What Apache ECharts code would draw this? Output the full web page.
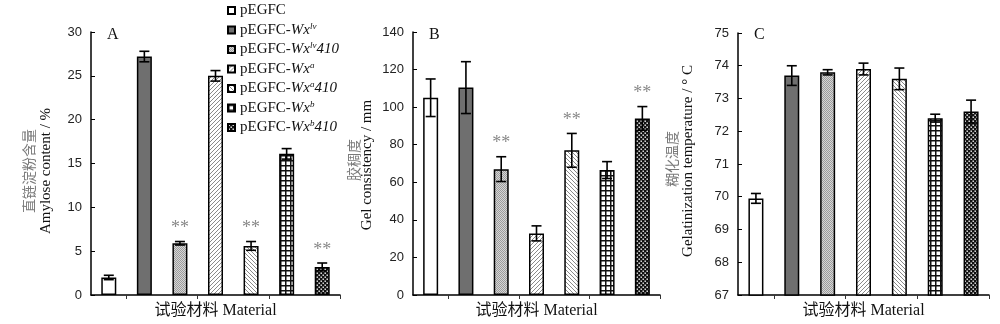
<!DOCTYPE html>
<html>
<head>
<meta charset="utf-8">
<script src="https://cdn.jsdelivr.net/npm/echarts@6/dist/echarts.min.js"></script>
<style>html,body{margin:0;padding:0;background:#fff}#c{width:1000px;height:324px}</style>
</head>
<body>
<div id="c"></div>
<script>
// ---- data ----
const categories = ['pEGFC', 'pEGFC-Wxlv', 'pEGFC-Wxlv410', 'pEGFC-Wxa', 'pEGFC-Wxa410', 'pEGFC-Wxb', 'pEGFC-Wxb410'];
const amylose    = [2.0, 27.2, 5.9, 25.0, 5.6, 16.1, 3.2];
const amyloseErr = [0.25, 0.6, 0.2, 0.6, 0.5, 0.6, 0.45];
const amyloseSig = ['', '', '**', '', '**', '', '**'];
const gelCons    = [105, 110.4, 67.0, 32.8, 77.0, 66.5, 94.0];
const gelConsErr = [10, 13.8, 6.6, 4.0, 9.0, 4.5, 6.3];
const gelConsSig = ['', '', '**', '', '**', '', '**'];
const gelTemp    = [69.95, 73.7, 73.8, 73.9, 73.6, 72.4, 72.6];
const gelTempErr = [0.15, 0.3, 0.08, 0.18, 0.33, 0.12, 0.35];
const gelTempSig = ['', '', '', '', '', '', ''];
const panelLetters = ['A', 'B', 'C'];
const yTitlesCN = ['直链淀粉含量', '胶稠度', '糊化温度'];
const yTitlesEN = ['Amylose content / %', 'Gel consistency / mm', 'Gelatinization temperature / ° C'];
const xTitle = '试验材料 Material';
const yRanges = [[0, 30, 5], [0, 140, 20], [67, 75, 1]];

// ---- patterns ----
function mk(w, h, draw) {
  const c = document.createElement('canvas'); c.width = w; c.height = h;
  const g = c.getContext('2d'); draw(g, w, h);
  return { image: c, repeat: 'repeat' };
}
const fills = [
  '#ffffff',
  '#6f6f6f',
  mk(2, 2, (g) => { g.fillStyle = '#d6d6d6'; g.fillRect(0, 0, 2, 2); g.fillStyle = '#9c9c9c'; g.fillRect(0, 0, 1, 1); g.fillRect(1, 1, 1, 1); }),
  mk(4, 4, (g) => { g.fillStyle = '#fff'; g.fillRect(0, 0, 4, 4); g.strokeStyle = '#8a8a8a'; g.lineWidth = 1; g.beginPath(); g.moveTo(-1, 5); g.lineTo(5, -1); g.moveTo(-1, 1); g.lineTo(1, -1); g.moveTo(3, 5); g.lineTo(5, 3); g.stroke(); }),
  mk(4, 4, (g) => { g.fillStyle = '#fff'; g.fillRect(0, 0, 4, 4); g.strokeStyle = '#8a8a8a'; g.lineWidth = 1; g.beginPath(); g.moveTo(-1, -1); g.lineTo(5, 5); g.moveTo(3, -1); g.lineTo(5, 1); g.moveTo(-1, 3); g.lineTo(1, 5); g.stroke(); }),
  mk(5, 5, (g) => { g.fillStyle = '#fff'; g.fillRect(0, 0, 5, 5); g.fillStyle = '#111'; g.fillRect(0, 0, 5, 1.5); g.fillRect(0, 0, 1.5, 5); }),
  mk(4, 4, (g) => { g.fillStyle = '#111'; g.fillRect(0, 0, 4, 4); g.fillStyle = '#fff'; g.fillRect(0.5, 0.5, 1.4, 1.4); g.fillRect(2.5, 2.5, 1.4, 1.4); })
];

const panels = [
  { vals: amylose, err: amyloseErr, sig: amyloseSig },
  { vals: gelCons, err: gelConsErr, sig: gelConsSig },
  { vals: gelTemp, err: gelTempErr, sig: gelTempSig }
];
const grids = [
  { left: 91, top: 32, width: 249, height: 266 },
  { left: 413, top: 32, width: 247, height: 266 },
  { left: 738, top: 33, width: 251, height: 264 }
];
// y-title placement (centre of each rotated line)
const titlePos = [
  { cn: [29, 171], en: [46, 171] },
  { cn: [354, 160], en: [367, 165] },
  { cn: [672, 159], en: [688, 161] }
];

const serif = 'Liberation Serif';
const cjk = 'Noto Sans CJK SC';

const xAxes = [], yAxes = [], series = [], graphics = [];
panels.forEach((p, k) => {
  xAxes.push({
    type: 'category', gridIndex: k, data: categories, boundaryGap: true,
    axisLine: { lineStyle: { color: '#000', width: 1.5 } },
    axisTick: { show: true, length: 4, inside: false, interval: (i) => i % 2 === 1, lineStyle: { color: '#333', width: 1 } },
    axisLabel: { show: false },
    splitLine: { show: false },
    name: xTitle, nameLocation: 'middle', nameGap: 8,
    nameTextStyle: { fontFamily: serif + ', ' + cjk, fontSize: 16, color: '#111' }
  });
  yAxes.push({
    type: 'value', gridIndex: k, min: yRanges[k][0], max: yRanges[k][1], interval: yRanges[k][2],
    axisLine: { show: true, lineStyle: { color: '#000', width: 1.5 } },
    axisTick: { show: true, inside: true, length: 4, lineStyle: { color: '#000', width: 1 } },
    axisLabel: { fontFamily: 'Liberation Sans', fontSize: 13, color: '#222', margin: 9 },
    splitLine: { show: false }
  });
  categories.forEach((name, i) => {
    series.push({
      type: 'bar', name: name, xAxisIndex: k, yAxisIndex: k,
      data: p.vals.map((v, j) => (j === i ? v : '-')),
      barWidth: 15, barGap: '-100%',
      itemStyle: { color: fills[i], borderColor: '#000', borderWidth: 1.5 },
      emphasis: { disabled: true }, animation: false
    });
  });
  series.push({
    type: 'custom', xAxisIndex: k, yAxisIndex: k, z: 10, animation: false,
    data: p.vals.map((v, j) => [j, v, p.err[j]]),
    renderItem: (params, api) => {
      const x = api.value(0), v = api.value(1), e = api.value(2);
      const t = api.coord([x, v + e]), b = api.coord([x, v - e]);
      const hw = 5;
      const st = { stroke: '#000', lineWidth: 1.6 };
      const ch = [
        { type: 'line', shape: { x1: t[0], y1: t[1], x2: b[0], y2: b[1] }, style: st },
        { type: 'line', shape: { x1: t[0] - hw, y1: t[1], x2: t[0] + hw, y2: t[1] }, style: st },
        { type: 'line', shape: { x1: b[0] - hw, y1: b[1], x2: b[0] + hw, y2: b[1] }, style: st }
      ];
      const s = p.sig[params.dataIndex];
      if (s) {
        ch.push({ type: 'text', x: t[0], y: t[1] - 4, style: { text: s, fill: '#888', font: '18px Liberation Serif', align: 'center', verticalAlign: 'bottom' } });
      }
      return { type: 'group', children: ch };
    }
  });
  graphics.push({
    type: 'text', left: grids[k].left + 16, top: 27,
    style: { text: panelLetters[k], font: '16px Liberation Serif', fill: '#111' }
  });
  graphics.push({
    type: 'text', x: titlePos[k].cn[0], y: titlePos[k].cn[1], rotation: Math.PI / 2,
    style: { text: yTitlesCN[k], font: '14px "Noto Sans CJK SC"', fill: '#7a7a7a', align: 'center', verticalAlign: 'middle' }
  });
  graphics.push({
    type: 'text', x: titlePos[k].en[0], y: titlePos[k].en[1], rotation: Math.PI / 2,
    style: { text: yTitlesEN[k], font: '15px "Liberation Serif"', fill: '#111', align: 'center', verticalAlign: 'middle' }
  });
});

const chart = echarts.init(document.getElementById('c'), null, { renderer: 'canvas' });
chart.setOption({
  animation: false,
  grid: grids,
  xAxis: xAxes,
  yAxis: yAxes,
  series: series,
  graphic: graphics,
  legend: {
    data: categories, orient: 'vertical', left: 227, top: 3, padding: 0,
    itemWidth: 7, itemHeight: 7, itemGap: 4, icon: 'rect',
    selectedMode: false,
    formatter: (name) => {
      const m = name.match(/^pEGFC-Wx(lv|a|b)(410)?$/);
      if (!m) return '{n|' + name + '}';
      return '{n|pEGFC-}{i|Wx}{s|' + m[1] + '}' + (m[2] ? '{i|' + m[2] + '}' : '');
    },
    textStyle: {
      fontFamily: serif, fontSize: 15, color: '#111',
      rich: {
        n: { fontFamily: serif, fontSize: 15, color: '#111', lineHeight: 16 },
        i: { fontFamily: serif, fontSize: 15, fontStyle: 'italic', color: '#111', lineHeight: 16 },
        s: { fontFamily: serif, fontSize: 9, fontStyle: 'italic', color: '#111', lineHeight: 9, verticalAlign: 'top' }
      }
    }
  }
});
</script>
</body>
</html>
